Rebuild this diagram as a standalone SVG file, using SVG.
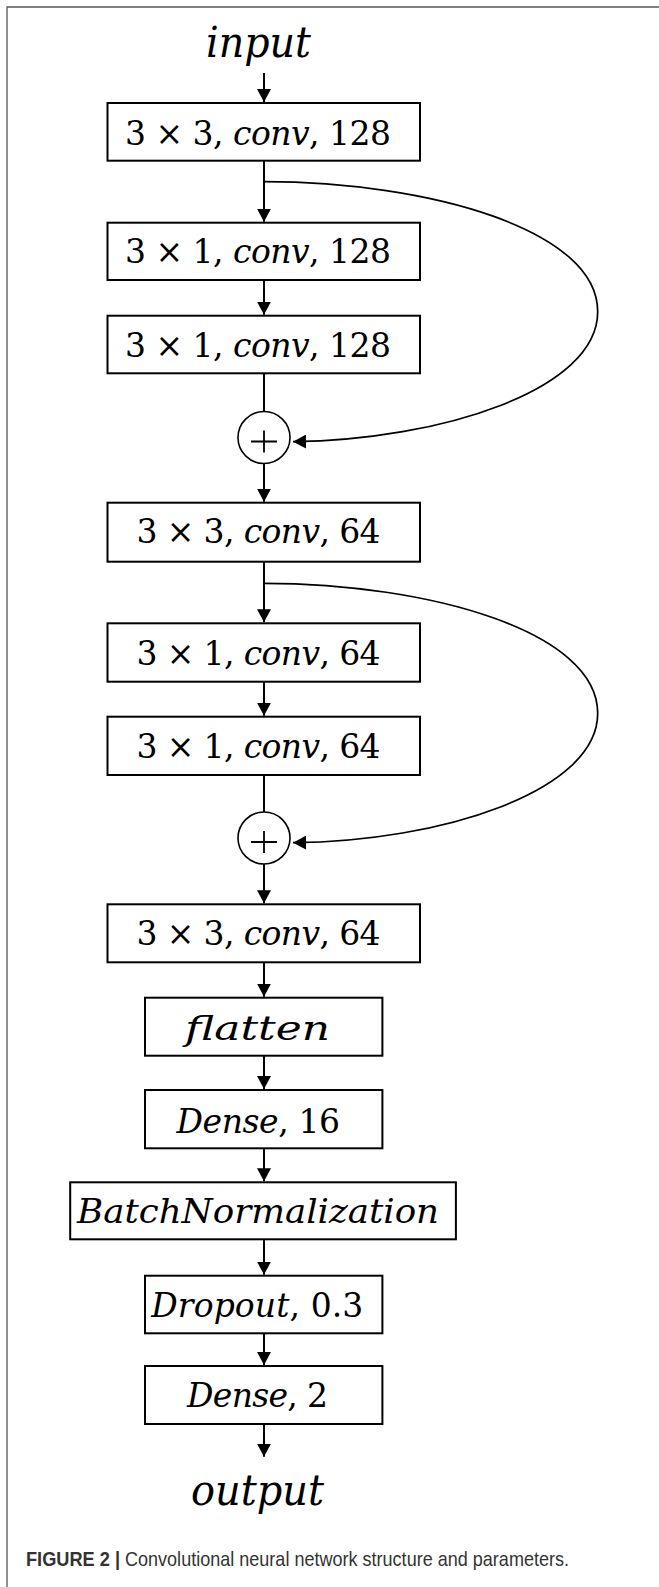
<svg xmlns="http://www.w3.org/2000/svg" width="659" height="1587" viewBox="0 0 659 1587">
  <style>
    .frame { stroke: #555; stroke-width: 1.3; fill: none; }
    .box { fill: #fff; stroke: #000; stroke-width: 2; }
    .sum { fill: #fff; stroke: #000; stroke-width: 1.6; }
    .plus { stroke: #000; stroke-width: 1.8; fill: none; }
    .flow { stroke: #000; stroke-width: 2; fill: none; }
    .skip { stroke: #000; stroke-width: 1.7; fill: none; }
    .math { font-family: "DejaVu Serif", "Liberation Serif", serif; font-size: 33px; fill: #000; }
    .big { font-size: 42px; }
    .it { font-style: italic; }
    .caption { font-family: "Liberation Sans", Arial, sans-serif; font-size: 21px; fill: #333; }
  </style>
  <defs>
    <marker id="arrow" markerUnits="userSpaceOnUse" markerWidth="14" markerHeight="14" viewBox="0 0 14 14" refX="13" refY="7" orient="auto">
      <path d="M0,0 L13,7 L0,14 z" fill="#000"/>
    </marker>
  </defs>

  <rect width="659" height="1587" fill="#fff"/>
  <!-- figure frame (top and left rules) -->
  <path class="frame" d="M7,1587 V7 H659"/>

  <!-- connectors -->
  <g id="connectors">
    <path class="flow" d="M264,73 V102" marker-end="url(#arrow)"/>
    <path class="flow" d="M264,160.7 V221.7" marker-end="url(#arrow)"/>
    <path class="flow" d="M264,280 V314.7" marker-end="url(#arrow)"/>
    <path class="flow" d="M264,373.3 V411.5"/>
    <path class="flow" d="M264,463.5 V501.7" marker-end="url(#arrow)"/>
    <path class="flow" d="M264,561.7 V622.3" marker-end="url(#arrow)"/>
    <path class="flow" d="M264,681.7 V715.7" marker-end="url(#arrow)"/>
    <path class="flow" d="M264,775 V812"/>
    <path class="flow" d="M264,864 V903.3" marker-end="url(#arrow)"/>
    <path class="flow" d="M264,962.3 V996.7" marker-end="url(#arrow)"/>
    <path class="flow" d="M264,1055.7 V1089" marker-end="url(#arrow)"/>
    <path class="flow" d="M264,1148.3 V1181.3" marker-end="url(#arrow)"/>
    <path class="flow" d="M264,1239.3 V1274.7" marker-end="url(#arrow)"/>
    <path class="flow" d="M264,1333.3 V1365" marker-end="url(#arrow)"/>
    <path class="flow" d="M264,1424 V1456.7" marker-end="url(#arrow)"/>
    <!-- residual shortcuts -->
    <path class="skip" d="M264,181.7 C430,182 597.7,230 597.7,311.7 C597.7,390 440,440 293,441.7" marker-end="url(#arrow)"/>
    <path class="skip" d="M264,583.3 C430,583.6 597.7,631.6 597.7,713.3 C597.7,791.6 440,841.6 293,842.7" marker-end="url(#arrow)"/>
  </g>

  <g id="input">
    <text class="math big it" x="206" y="56.7" textLength="105" lengthAdjust="spacingAndGlyphs">input</text>
  </g>

  <g id="conv3x3_128">
    <rect class="box" x="107.5" y="103" width="312.5" height="57.7"/>
    <text class="math" x="125" y="145" textLength="266">3 × 3, <tspan class="it">conv</tspan>, 128</text>
  </g>
  <g id="conv3x1_128_a">
    <rect class="box" x="107.5" y="222.7" width="312.5" height="57.3"/>
    <text class="math" x="125" y="263.3" textLength="266">3 × 1, <tspan class="it">conv</tspan>, 128</text>
  </g>
  <g id="conv3x1_128_b">
    <rect class="box" x="107.5" y="315.7" width="312.5" height="57.6"/>
    <text class="math" x="125" y="356.7" textLength="266">3 × 1, <tspan class="it">conv</tspan>, 128</text>
  </g>
  <g id="add1">
    <circle class="sum" cx="264" cy="437.5" r="26"/>
    <path class="plus" d="M251,441.5 H277 M264,430.5 V452.5"/>
  </g>

  <g id="conv3x3_64_a">
    <rect class="box" x="107.5" y="502.7" width="312.5" height="59"/>
    <text class="math" x="136.5" y="543.3" textLength="244">3 × 3, <tspan class="it">conv</tspan>, 64</text>
  </g>
  <g id="conv3x1_64_a">
    <rect class="box" x="107.5" y="623.3" width="312.5" height="58.4"/>
    <text class="math" x="136.5" y="665" textLength="244">3 × 1, <tspan class="it">conv</tspan>, 64</text>
  </g>
  <g id="conv3x1_64_b">
    <rect class="box" x="107.5" y="716.7" width="312.5" height="58.3"/>
    <text class="math" x="136.5" y="758.3" textLength="244">3 × 1, <tspan class="it">conv</tspan>, 64</text>
  </g>
  <g id="add2">
    <circle class="sum" cx="264" cy="838" r="26"/>
    <path class="plus" d="M251,842 H277 M264,831 V853"/>
  </g>

  <g id="conv3x3_64_b">
    <rect class="box" x="107.5" y="904.3" width="312.5" height="58"/>
    <text class="math" x="136.5" y="945" textLength="244">3 × 3, <tspan class="it">conv</tspan>, 64</text>
  </g>
  <g id="flatten">
    <rect class="box" x="145" y="997.7" width="237.4" height="58"/>
    <text class="math it" x="185" y="1040" font-size="37" textLength="145" lengthAdjust="spacingAndGlyphs">flatten</text>
  </g>
  <g id="dense16">
    <rect class="box" x="145" y="1090" width="237.4" height="58.3"/>
    <text class="math" x="176.5" y="1133.3" font-size="34" textLength="163.5"><tspan class="it">Dense</tspan>, 16</text>
  </g>
  <g id="batchnorm">
    <rect class="box" x="70.2" y="1182.3" width="385.7" height="57"/>
    <text class="math it" x="77" y="1223.3" textLength="362" lengthAdjust="spacingAndGlyphs">BatchNormalization</text>
  </g>
  <g id="dropout">
    <rect class="box" x="145" y="1275.7" width="237.4" height="57.6"/>
    <text class="math" x="151.3" y="1316.7" font-size="34" textLength="212"><tspan class="it">Dropout</tspan>, 0.3</text>
  </g>
  <g id="dense2">
    <rect class="box" x="145" y="1366" width="237.4" height="58"/>
    <text class="math" x="187" y="1406.7" font-size="34" textLength="141"><tspan class="it">Dense</tspan>, 2</text>
  </g>

  <g id="output">
    <text class="math big it" x="191" y="1505" textLength="133" lengthAdjust="spacingAndGlyphs">output</text>
  </g>

  <!-- figure caption -->
  <text class="caption" x="26" y="1566" font-weight="bold" textLength="94" lengthAdjust="spacingAndGlyphs">FIGURE 2 |</text>
  <text class="caption" x="125" y="1566" textLength="444" lengthAdjust="spacingAndGlyphs">Convolutional neural network structure and parameters.</text>
</svg>
